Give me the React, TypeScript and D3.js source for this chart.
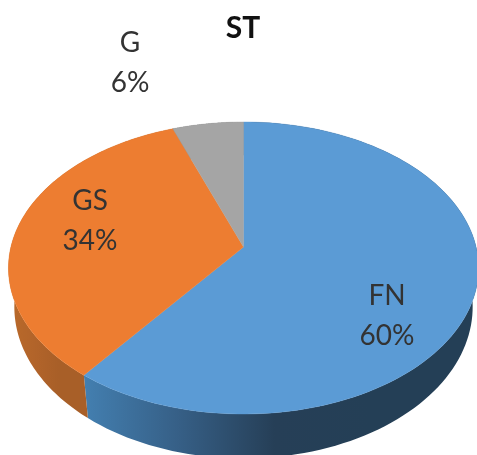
import React from "react";
import * as d3 from "d3";

const categories = ["FN", "GS", "G"];
const shares = [60.4, 34, 5.6];
const topColors = ["#5b9bd5", "#ed7d31", "#a5a5a5"];
const gradientStops = [
  ["#437fb0", "#365f86", "#263f57", "#243f56"],
  ["#ba6a2a", "#b2642a", "#a85f28", "#a85f28"],
  ["#777777", "#777777", "#777777", "#777777"],
];
const labelPositions = [
  [387, 305, 345],
  [90, 210, 250],
  [130, 52, 92],
];

const W = 477;
const H = 455;
const cx = 243.5;
const cy = 247;
const R = 232.6;
const S = 143;
const P = 0.1438;
const D = 38;
const TAPER = 0.975;

const project = (a: number, depth = 0): [number, number] => {
  const u = Math.sin(a);
  const v = -Math.cos(a);
  const w = 1 - P * v;
  return [cx + ((R * u) / w) * (depth ? TAPER : 1), cy + (S * v) / w + depth / w];
};

const samples = (a0: number, a1: number) => d3.range(0, 121).map((i) => a0 + ((a1 - a0) * i) / 120);

export default function App() {
  const arcs = d3.pie<number>().sort(null)(shares);
  const line = d3.line();
  return (
    <svg
      width={W}
      height={H}
      viewBox={`0 0 ${W} ${H}`}
      style={{ position: "absolute", left: 0, top: 0, display: "block", background: "#fff", filter: "blur(0.4px)" }}
      fontFamily="Lato, 'Open Sans', sans-serif"
    >
      <defs>
        {arcs.map((arc, i) => {
          const xs = samples(arc.startAngle, arc.endAngle).filter((a) => -Math.cos(a) > -0.2).map((a) => project(a)[0]);
          const x2 = i === 0 ? 370 : d3.max(xs) ?? 0;
          const x1 = i === 0 ? 84 : d3.min(xs) ?? 0;
          return (
            <linearGradient key={i} id={`side${i}`} gradientUnits="userSpaceOnUse" x1={x1} x2={x2} y1={0} y2={0}>
              {gradientStops[i].map((c, j) => (
                <stop key={j} offset={j / 3} stopColor={c} />
              ))}
            </linearGradient>
          );
        })}
      </defs>
      {arcs.map((arc, i) => {
        const pts = samples(arc.startAngle, arc.endAngle);
        const d = line([...pts.map((a) => project(a)), ...pts.slice().reverse().map((a) => project(a, D))]) + "Z";
        return <path key={i} d={d} fill={`url(#side${i})`} />;
      })}
      {arcs.map((arc, i) => {
        const pts = samples(arc.startAngle, arc.endAngle);
        const d = line([[cx, cy], ...pts.map((a) => project(a))]) + "Z";
        return <path key={i} d={d} fill={topColors[i]} stroke={topColors[i]} strokeWidth={0.4} />;
      })}
      <text x={243} y={38} textAnchor="middle" fontSize={30} fontWeight={700} fill="#111">
        ST
      </text>
      {categories.map((c, i) => (
        <g key={c} fontSize={28} fill="#333" textAnchor="middle">
          <text x={labelPositions[i][0]} y={labelPositions[i][1]}>{c}</text>
          <text x={labelPositions[i][0]} y={labelPositions[i][2]}>{`${Math.round(shares[i])}%`}</text>
        </g>
      ))}
    </svg>
  );
}
